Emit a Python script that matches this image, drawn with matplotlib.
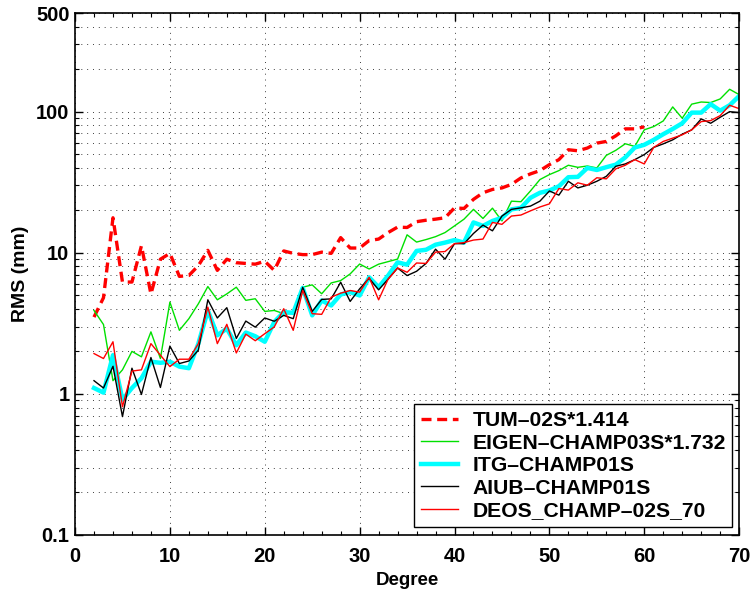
import numpy as np
import matplotlib
matplotlib.use('Agg')
import matplotlib.pyplot as plt
from matplotlib.ticker import FixedLocator, NullFormatter, MultipleLocator

# spherical harmonic degree
degrees = list(range(2, 71))
tum_degrees = list(range(2, 61))

tum = [3.5, 4.8, 17.7, 6.2, 6.2, 11.2, 5.1, 9.0, 9.9, 6.8,
       6.9, 8.1, 10.4, 7.5, 9.0, 8.5, 8.4, 8.3, 8.7, 7.5,
       10.3, 9.9, 9.7, 9.7, 10.1, 9.9, 12.8, 10.8, 10.8, 12.2,
       12.5, 13.9, 15.2, 15.1, 16.6, 17.0, 17.3, 17.7, 20.8, 20.6,
       23.9, 26.6, 28.1, 28.8, 30.5, 33.9, 36.2, 38.2, 42.1, 45.7,
       53.7, 52.8, 55.2, 59.8, 61.5, 67.4, 75.5, 75.5, 78]

eigen = [3.9, 3.1, 1.24, 1.48, 2.0, 1.83, 2.75, 1.78, 4.47, 2.82,
         3.41, 4.35, 5.76, 4.64, 5.11, 5.7, 4.6, 4.72, 3.84, 3.9,
         3.7, 3.7, 5.7, 5.92, 5.12, 6.11, 6.35, 7.08, 8.32, 7.67,
         8.3, 8.65, 9.02, 13.4, 11.9, 12.4, 13.0, 13.9, 15.5, 17.3,
         20.3, 17.5, 20.7, 16.8, 23.2, 23.0, 27.4, 33.0, 35.8, 38.2,
         41.7, 40.3, 41.2, 39.9, 49, 53.2, 59.2, 56.7, 74.3, 78.4,
         85.9, 108, 89.8, 113, 117, 116, 123, 144, 132]

itg = [1.10, 1.02, 1.88, 0.91, 1.10, 1.29, 1.69, 1.66, 1.69, 1.56,
       1.52, 2.27, 3.9, 2.6, 2.9, 2.21, 2.72, 2.56, 2.34, 3.23,
       3.8, 3.75, 5.64, 3.6, 4.59, 4.23, 5.06, 5.26, 4.98, 6.7,
       5.7, 6.89, 8.55, 8.23, 10.3, 10.5, 11.4, 11.8, 12.3, 11.8,
       16.4, 15.5, 16.8, 17.7, 20.3, 20.8, 24.5, 26.6, 27.6, 29.6,
       34.3, 34.5, 39.9, 38.6, 40.4, 42.1, 47.4, 55.7, 58.2, 63.1,
       69.2, 75.4, 82.7, 98.4, 98.4, 113, 101.6, 111, 129]

aiub = [1.24, 1.10, 1.57, 0.69, 1.52, 0.99, 1.81, 1.11, 2.18, 1.64,
        1.71, 2.04, 4.64, 3.45, 4.08, 2.47, 3.28, 2.97, 3.45, 3.27,
        3.6, 3.41, 5.69, 3.84, 4.67, 4.71, 6.18, 4.52, 5.55, 6.6,
        5.46, 6.5, 7.8, 6.89, 7.39, 8.4, 10.6, 9.0, 11.6, 11.6,
        13.7, 15.7, 14.3, 18.2, 20.3, 20.8, 21.4, 23.2, 27.4, 25.6,
        32.1, 28.8, 30.1, 32.1, 34.8, 41, 42.6, 45.7, 49.6, 55.8,
        59.1, 63.1, 69.2, 74.3, 88.8, 82.7, 91.2, 100, 98.4]

deos = [1.93, 1.78, 2.34, 0.81, 1.45, 1.48, 2.27, 1.88, 1.56, 1.76,
        1.76, 2.27, 4.12, 2.27, 3.11, 1.95, 2.65, 2.38, 2.67, 2.98,
        4.01, 2.82, 5.4, 3.7, 3.66, 4.84, 5.17, 5.4, 5.26, 6.7,
        4.64, 6.5, 7.8, 7.27, 8.46, 8.4, 10.1, 10.2, 11.6, 11.8,
        12.3, 12.5, 16.4, 15.9, 18.2, 18.5, 19.8, 21.1, 22.2, 28.5,
        27.8, 31.3, 30.1, 34, 33.4, 39.3, 41.7, 45.7, 42.6, 55.8,
        61.5, 64.9, 68.5, 74.3, 85, 86.4, 93.7, 111, 105]

y_ticks = [0.1, 1, 10, 100, 500]
y_tick_labels = ['0.1', '1', '10', '100', '500']
x_ticks = [0, 10, 20, 30, 40, 50, 60, 70]

plt.rcParams['font.family'] = ['Liberation Sans', 'DejaVu Sans']
plt.rcParams['font.weight'] = 'bold'

fig = plt.figure(figsize=(7.51, 5.91), dpi=100)
ax = fig.add_axes([0.0999, 0.0948, 0.8843, 0.8832])

ax.plot(tum_degrees, tum, '--', color='#ff0000', lw=2.4, dashes=(3, 1.7), label='TUM\u201302S*1.414')
ax.plot(degrees, eigen, '-', color='#00e000', lw=1.0, label='EIGEN\u2013CHAMP03S*1.732')
ax.plot(degrees, itg, '-', color='#00ffff', lw=3.2, label='ITG\u2013CHAMP01S')
ax.plot(degrees, aiub, '-', color='black', lw=1.0, label='AIUB\u2013CHAMP01S')
ax.plot(degrees, deos, '-', color='#ff0000', lw=1.0, label='DEOS_CHAMP\u201302S_70')

ax.set_yscale('log')
ax.set_xlim(0, 70)
ax.set_ylim(0.1, 500)
ax.set_xticks(x_ticks)
ax.set_xticklabels([str(t) for t in x_ticks])
ax.xaxis.set_minor_locator(MultipleLocator(2))
ax.yaxis.set_major_locator(FixedLocator(y_ticks))
ax.set_yticklabels(y_tick_labels)
minors = [m * 10.0 ** e for e in range(-1, 3) for m in range(2, 10) if m * 10.0 ** e < 500]
ax.yaxis.set_minor_locator(FixedLocator(minors))
ax.yaxis.set_minor_formatter(NullFormatter())

dots = (0, (1, 5))
ax.grid(True, which='major', axis='both', color='0.25', linestyle=dots, lw=0.7)
ax.grid(True, which='minor', axis='y', color='0.25', linestyle=dots, lw=0.7)
ax.set_axisbelow(True)

ax.tick_params(which='both', direction='in', top=True, right=True, labelsize=14.5)
ax.tick_params(which='major', length=6, width=1)
ax.tick_params(which='minor', length=3, width=0.8)
ax.tick_params(axis='x', pad=9)
ax.tick_params(axis='y', pad=4)
for sp in ax.spines.values():
    sp.set_linewidth(1.2)

ax.set_xlabel('Degree', fontsize=13.5, fontweight='bold', labelpad=4)
ax.set_ylabel('RMS (mm)', fontsize=14, fontweight='bold', labelpad=5)

leg = ax.legend(loc='lower right', bbox_to_anchor=(0.99, 0.015), borderaxespad=0,
                fontsize=15.2, fancybox=False, framealpha=1, edgecolor='black',
                handlelength=1.75, labelspacing=0.17, borderpad=0.32, handletextpad=0.7)
leg.get_frame().set_linewidth(1.0)
for t in leg.get_texts():
    t.set_fontweight('bold')

plt.savefig('out.png', dpi=100)
